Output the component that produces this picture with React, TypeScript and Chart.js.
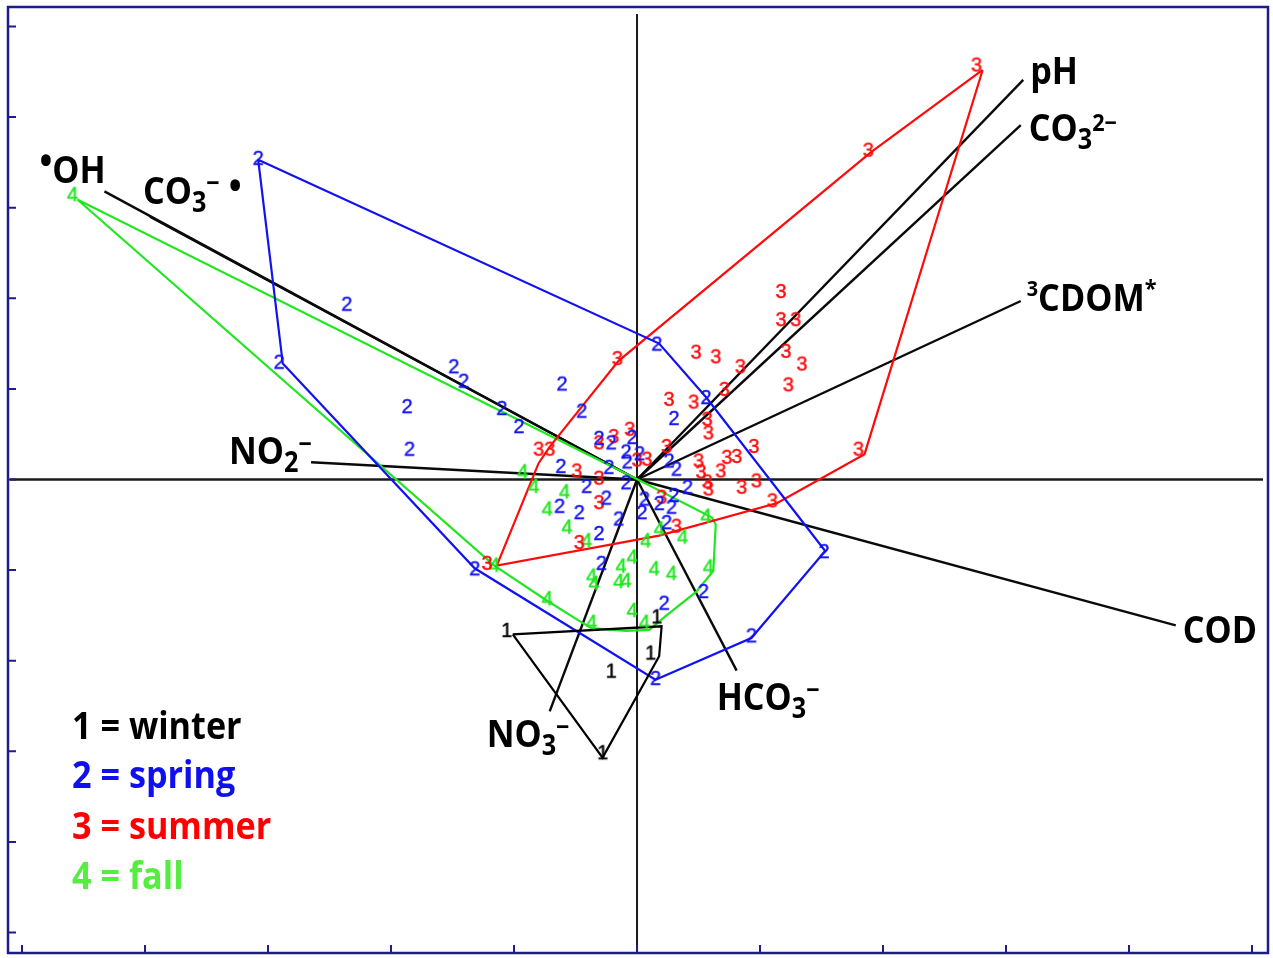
import React, { useEffect, useRef } from 'react';
import { Chart, registerables } from 'chart.js';

Chart.register(...registerables);

// ---------- data (PCA scores / loadings, one tick = 1 unit) ----------
const seasonDigits = ['1', '2', '3', '4'];
const seasonNames = ['winter', 'spring', 'summer', 'fall'];

const winterPoints = [[-1.06, -1.66], [0.16, -1.51], [0.11, -1.91], [-0.21, -2.11], [-0.28, -3.01]];
const winterHull = [[-1.01, -1.71], [0.2, -1.62], [0.18, -1.95], [-0.28, -3.07], [-1.01, -1.71]];

const springPoints = [
  [-3.08, 3.55], [-2.36, 1.94], [-2.91, 1.3], [-1.49, 1.25], [-1.41, 1.09], [-1.87, 0.81], [-1.1, 0.79],
  [-0.96, 0.59], [-0.61, 1.06], [-1.85, 0.34], [-0.62, 0.15], [0.16, 1.5], [-0.45, 0.76], [0.56, 0.91],
  [0.3, 0.68], [-0.31, 0.46], [-0.21, 0.41], [-0.04, 0.47], [-0.09, 0.31], [0.02, 0.29], [-0.08, 0.2],
  [-0.23, 0.14], [-0.41, -0.07], [-0.09, -0.03], [0.26, 0.21], [0.32, 0.12], [0.41, -0.08], [0.3, -0.17],
  [0.28, -0.3], [0.06, -0.21], [0.04, -0.36], [0.18, -0.26], [0.24, -0.47], [-0.25, -0.2], [-0.63, -0.29],
  [-0.47, -0.36], [-0.15, -0.43], [-0.31, -0.59], [-0.29, -0.92], [0.54, -1.23], [0.22, -1.36], [1.52, -0.79],
  [0.93, -1.72], [0.15, -2.19], [-1.32, -0.98],
];
const springHull = [[-3.08, 3.53], [0.18, 1.5], [0.56, 0.91], [1.53, -0.79], [0.93, -1.75], [0.15, -2.21], [-1.32, -0.98], [-2.88, 1.28], [-3.08, 3.53]];

const summerPoints = [
  [2.76, 4.58], [1.88, 3.64], [1.17, 2.08], [1.17, 1.77], [1.29, 1.77], [1.21, 1.42], [1.34, 1.28], [1.23, 1.05],
  [0.48, 1.41], [0.64, 1.36], [0.84, 1.25], [0.71, 1.0], [0.26, 0.89], [0.46, 0.86], [-0.16, 1.34], [0.57, 0.67],
  [0.58, 0.52], [0.95, 0.37], [0.73, 0.25], [0.81, 0.26], [0.5, 0.21], [0.52, 0.09], [0.68, 0.1], [0.57, -0.02],
  [0.58, -0.1], [0.85, -0.08], [0.97, -0.01], [1.1, -0.23], [1.8, 0.34], [0.24, 0.37], [-0.06, 0.56], [-0.19, 0.48],
  [-0.31, 0.41], [0.08, 0.23], [0.0, 0.22], [-0.49, 0.1], [-0.31, 0.02], [-0.8, 0.34], [-0.71, 0.34], [-0.31, -0.25],
  [-0.47, -0.69], [0.2, -0.19], [0.32, -0.51], [-1.22, -0.92],
];
const summerHull = [[2.81, 4.52], [1.85, 0.28], [1.14, -0.26], [0.18, -0.62], [-1.14, -0.95], [-0.8, 0.18], [-0.71, 0.36], [-0.15, 1.31], [1.9, 3.61], [2.81, 4.52]];

const fallPoints = [
  [-4.59, 3.15], [-0.93, 0.09], [-0.84, -0.07], [-0.59, -0.13], [-0.73, -0.32], [-0.57, -0.52], [-0.41, -0.67],
  [0.56, -0.4], [0.18, -0.54], [0.37, -0.63], [0.07, -0.67], [-0.04, -0.85], [-0.13, -0.95], [0.14, -0.98],
  [0.28, -1.03], [0.58, -0.96], [-0.37, -1.06], [-0.35, -1.14], [-0.15, -1.12], [-0.09, -1.11], [-0.73, -1.31],
  [-0.04, -1.44], [-0.37, -1.57], [0.06, -1.57], [-1.16, -0.94],
];
const fallHull = [[-4.55, 3.09], [-0.01, 0.01], [0.61, -0.42], [0.64, -0.5], [0.62, -1.01], [0.48, -1.24], [0.24, -1.5], [0.1, -1.66], [-0.09, -1.67], [-0.37, -1.64], [-0.47, -1.56], [-0.74, -1.33], [-1.16, -0.95], [-4.55, 3.09]];

const vectorNames = ['•OH', 'CO3−•', 'pH', 'CO3²⁻', '³CDOM*', 'COD', 'HCO3−', 'NO3−', 'NO2−'];
const vectorX = [-4.33, -3.96, 3.14, 3.12, 3.12, 4.38, 0.81, -0.71, -2.65];
const vectorY = [3.18, 2.9, 4.41, 3.91, 1.97, -1.61, -2.11, -2.56, 0.19];

const tickValues = [-5, -4, -3, -2, -1, 0, 1, 2, 3, 4, 5];

// ---------- styling ----------
const X_MIN = -5.114, X_MAX = 5.13, Y_MIN = -5.226, Y_MAX = 5.215;
const seasonColors = ['#000000', '#1212f0', '#ff0a0a', '#22e622'];
const legendColors = ['#000000', '#1010ee', '#ff0000', '#55ee40'];
const FRAME = '#1c1c8a';
const FONT = '"Open Sans", "Liberation Sans", sans-serif';
const SX = 0.9;

type Part = [string, number, number];
const vectorLabels: { dx: number; dy: number; parts: Part[] }[] = [
  { dx: -65, dy: -8, parts: [['•', 38, -9], ['OH', 38, 0]] },
  { dx: -7, dy: -13, parts: [['CO', 38, 0], ['3', 28, 8], ['−', 26, -12], [' •', 38, -5]] },
  { dx: 7, dy: 4, parts: [['pH', 38, 0]] },
  { dx: 8, dy: 16, parts: [['CO', 38, 0], ['3', 28, 8], ['2−', 24, -10]] },
  { dx: 6, dy: 10, parts: [['3', 22, -15], ['CDOM', 38, 0], ['*', 24, -14]] },
  { dx: 7, dy: 18, parts: [['COD', 38, 0]] },
  { dx: -20, dy: 39, parts: [['HCO', 38, 0], ['3', 28, 8], ['−', 26, -11]] },
  { dx: -63, dy: 36, parts: [['NO', 38, 0], ['3', 28, 8], ['−', 26, -11]] },
  { dx: -82, dy: 2, parts: [['NO', 38, 0], ['2', 28, 8], ['−', 26, -11]] },
];
const legendX = 72;
const legendBaselines = [739, 788, 839, 889];

function drawRich(ctx: CanvasRenderingContext2D, x: number, y: number, parts: Part[], color: string) {
  let cx = x;
  ctx.fillStyle = color;
  ctx.textAlign = 'left';
  ctx.textBaseline = 'alphabetic';
  for (const [t, size, dy] of parts) {
    ctx.font = `bold ${size}px ${FONT}`;
    ctx.save();
    ctx.translate(cx, y + dy);
    ctx.scale(SX, 1);
    ctx.fillText(t, 0, 0);
    ctx.restore();
    cx += ctx.measureText(t).width * SX;
  }
}

function glyph(d: string, color: string) {
  const c = document.createElement('canvas');
  c.width = 18;
  c.height = 24;
  const g = c.getContext('2d')!;
  g.font = '20px "Liberation Sans", Arial, sans-serif';
  g.fillStyle = color;
  g.strokeStyle = color;
  g.lineWidth = 0.4;
  g.textAlign = 'center';
  g.textBaseline = 'alphabetic';
  g.fillText(d, 9, 19.2);
  g.strokeText(d, 9, 19.2);
  return c;
}

const toXY = (arr: number[][]) => arr.map(([x, y]) => ({ x, y }));

const overlay = {
  id: 'overlay',
  beforeDatasetsDraw(chart: any) {
    const ctx = chart.ctx as CanvasRenderingContext2D;
    const { left, right, top, bottom } = chart.chartArea;
    const xs = chart.scales.x, ys = chart.scales.y;
    const x0 = xs.getPixelForValue(0), y0 = ys.getPixelForValue(0);
    ctx.save();
    ctx.strokeStyle = '#1a1a1a';
    ctx.lineWidth = 2.5;
    ctx.beginPath();
    ctx.moveTo(left + 2, y0);
    ctx.lineTo(right - 5, y0);
    ctx.stroke();
    ctx.lineWidth = 2;
    ctx.beginPath();
    ctx.moveTo(x0, top + 7);
    ctx.lineTo(x0, bottom);
    ctx.stroke();
    ctx.restore();
  },
  afterDatasetsDraw(chart: any) {
    const ctx = chart.ctx as CanvasRenderingContext2D;
    const { left, right, top, bottom } = chart.chartArea;
    const xs = chart.scales.x, ys = chart.scales.y;
    ctx.save();
    vectorLabels.forEach((lab, i) => {
      const px = xs.getPixelForValue(vectorX[i]);
      const py = ys.getPixelForValue(vectorY[i]);
      drawRich(ctx, px + lab.dx, py + lab.dy, lab.parts, '#000000');
    });
    seasonNames.forEach((n, i) => {
      drawRich(ctx, legendX, legendBaselines[i], [[`${seasonDigits[i]} = ${n}`, 38, 0]], legendColors[i]);
    });
    ctx.strokeStyle = FRAME;
    ctx.lineWidth = 2.5;
    ctx.strokeRect(left, top, right - left, bottom - top);
    ctx.lineWidth = 2;
    ctx.beginPath();
    tickValues.forEach((v) => {
      const ty = ys.getPixelForValue(v);
      ctx.moveTo(left, ty);
      ctx.lineTo(left + 8, ty);
      const tx = xs.getPixelForValue(v);
      ctx.moveTo(tx, bottom);
      ctx.lineTo(tx, bottom - 8);
    });
    ctx.stroke();
    ctx.restore();
  },
};

export default function App() {
  const ref = useRef<HTMLCanvasElement>(null);
  useEffect(() => {
    const pointSets = [winterPoints, springPoints, summerPoints, fallPoints];
    const hulls = [winterHull, springHull, summerHull, fallHull];
    const datasets: any[] = [];
    pointSets.forEach((pts, i) => {
      datasets.push({
        label: seasonNames[i],
        data: toXY(pts),
        pointStyle: glyph(seasonDigits[i], seasonColors[i]),
        showLine: false,
      });
    });
    hulls.forEach((h, i) => {
      datasets.push({
        label: seasonNames[i] + ' hull',
        data: toXY(h),
        showLine: true,
        borderColor: seasonColors[i],
        borderWidth: 2.2,
        pointRadius: 0,
        tension: 0,
        fill: false,
      });
    });
    vectorNames.forEach((n, i) => {
      datasets.push({
        label: n,
        data: [{ x: 0, y: 0 }, { x: vectorX[i], y: vectorY[i] }],
        showLine: true,
        borderColor: '#0a0a0a',
        borderWidth: 2.4,
        pointRadius: 0,
        fill: false,
      });
    });
    const chart = new Chart(ref.current!, {
      type: 'scatter',
      data: { datasets },
      options: {
        responsive: false,
        animation: false,
        devicePixelRatio: 1,
        events: [],
        layout: { padding: { left: 8, top: 7, right: 3, bottom: 2 } },
        scales: {
          x: { type: 'linear', min: X_MIN, max: X_MAX, display: false },
          y: { type: 'linear', min: Y_MIN, max: Y_MAX, display: false },
        },
        plugins: { legend: { display: false }, tooltip: { enabled: false } },
      },
      plugins: [overlay],
    } as any);
    return () => chart.destroy();
  }, []);
  return (
    <div style={{ position: 'absolute', left: 0, top: 0, width: 1273, height: 958, background: '#ffffff' }}>
      <canvas ref={ref} width={1273} height={958} style={{ display: 'block' }} />
    </div>
  );
}
